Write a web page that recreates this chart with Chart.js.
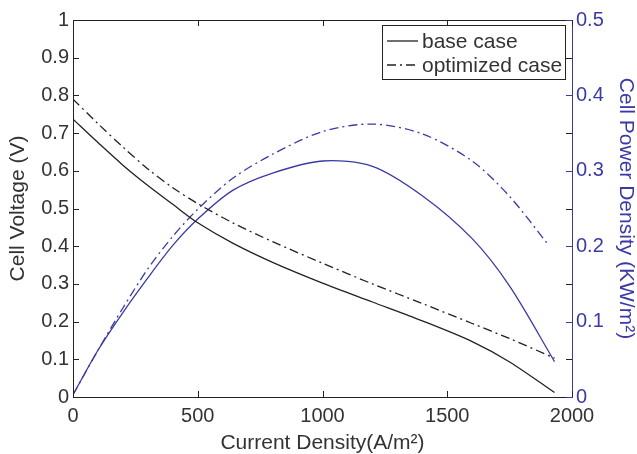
<!DOCTYPE html>
<html>
<head>
<meta charset="utf-8">
<script src="https://cdn.jsdelivr.net/npm/chart.js@4.4.0/dist/chart.umd.min.js"></script>
<style>
  html, body { margin: 0; padding: 0; background: #fff; }
  #wrap { width: 637px; height: 454px; }
</style>
</head>
<body>
<div id="wrap"><canvas id="fuelChart" width="637" height="454"></canvas></div>
<script>
// values
const currentDensity = [0, 100, 200, 300, 400, 500, 640, 800, 1000, 1200, 1400, 1600, 1750, 1930];
const baseVoltage = [0.737, 0.675, 0.615, 0.561, 0.511, 0.462, 0.408, 0.357, 0.302, 0.252, 0.202, 0.147, 0.093, 0.012];
const optVoltage = [0.79, 0.725, 0.663, 0.605, 0.555, 0.513, 0.462, 0.412, 0.355, 0.3, 0.248, 0.195, 0.155, 0.103];
const basePower = [0.003, 0.062, 0.112, 0.158, 0.201, 0.236, 0.274, 0.297, 0.313, 0.306, 0.267, 0.21, 0.147, 0.047];
const optPowerCurrent = [0, 100, 200, 300, 400, 500, 640, 800, 1000, 1200, 1400, 1600, 1750, 1900];
const optPower = [0.003, 0.062, 0.118, 0.17, 0.213, 0.249, 0.29, 0.322, 0.352, 0.362, 0.349, 0.313, 0.266, 0.204];

const currentTickLabels = ['0', '500', '1000', '1500', '2000'];
const voltageTickLabels = ['0', '0.1', '0.2', '0.3', '0.4', '0.5', '0.6', '0.7', '0.8', '0.9', '1'];
const powerTickLabels = ['0', '0.1', '0.2', '0.3', '0.4', '0.5'];

const BLACK = '#222222';
const BLUE = '#3a3aa6';
const TEXT = '#333333';
const DASHDOT = [9, 4, 2, 4];
const FONT = 'Liberation Sans, Arial, Helvetica, sans-serif';

function toPoints(xs, ys) {
    return xs.map((x, i) => ({ x: x, y: ys[i] }));
}

// inward ticks on all four sides plus the top edge of the box
const boxTicks = {
    id: 'boxTicks',
    afterDatasetsDraw(chart) {
        const { ctx, chartArea: a, scales } = chart;
        const len = 6;
        ctx.save();
        ctx.lineWidth = 1;
        ctx.strokeStyle = BLACK;
        ctx.beginPath();
        ctx.moveTo(a.left, a.top + 0.5);
        ctx.lineTo(a.right, a.top + 0.5);
        scales.x.ticks.forEach(t => {
            const px = Math.round(scales.x.getPixelForValue(t.value)) + 0.5;
            ctx.moveTo(px, a.bottom); ctx.lineTo(px, a.bottom - len);
            ctx.moveTo(px, a.top); ctx.lineTo(px, a.top + len);
        });
        scales.y.ticks.forEach(t => {
            const py = Math.round(scales.y.getPixelForValue(t.value)) + 0.5;
            ctx.moveTo(a.left, py); ctx.lineTo(a.left + len, py);
            ctx.moveTo(a.right, py); ctx.lineTo(a.right - len, py);
        });
        ctx.stroke();
        ctx.strokeStyle = BLUE;
        ctx.beginPath();
        scales.y1.ticks.forEach(t => {
            const py = Math.round(scales.y1.getPixelForValue(t.value)) + 0.5;
            ctx.moveTo(a.right, py); ctx.lineTo(a.right - len, py);
        });
        ctx.stroke();
        ctx.restore();
    }
};

// matlab style legend box, only the two voltage curves are listed
const boxLegend = {
    id: 'boxLegend',
    afterDraw(chart) {
        const ctx = chart.ctx;
        const items = chart.data.datasets.filter(d => d.inLegend);
        const x0 = 382, y0 = 25, w = 183, h = 54;
        ctx.save();
        ctx.fillStyle = '#fff';
        ctx.fillRect(x0, y0, w, h);
        ctx.strokeStyle = BLACK;
        ctx.lineWidth = 1;
        ctx.strokeRect(x0 + 0.5, y0 + 0.5, w, h);
        ctx.font = '21px ' + FONT;
        ctx.textBaseline = 'middle';
        items.forEach((d, i) => {
            const y = y0 + 16 + i * 24;
            ctx.strokeStyle = d.borderColor;
            ctx.lineWidth = 1.3;
            ctx.setLineDash(d.borderDash || []);
            ctx.beginPath();
            ctx.moveTo(x0 + 5, y);
            ctx.lineTo(x0 + 36, y);
            ctx.stroke();
            ctx.setLineDash([]);
            ctx.fillStyle = TEXT;
            ctx.fillText(d.label, x0 + 40, y + 1);
        });
        ctx.restore();
    }
};

const ctx = document.getElementById('fuelChart').getContext('2d');
new Chart(ctx, {
    type: 'scatter',
    data: {
        datasets: [
            {
                label: 'base case',
                inLegend: true,
                data: toPoints(currentDensity, baseVoltage),
                borderColor: BLACK,
                yAxisID: 'y'
            },
            {
                label: 'optimized case',
                inLegend: true,
                data: toPoints(currentDensity, optVoltage),
                borderColor: BLACK,
                borderDash: DASHDOT,
                yAxisID: 'y'
            },
            {
                label: 'base case power',
                data: toPoints(currentDensity, basePower),
                borderColor: BLUE,
                yAxisID: 'y1'
            },
            {
                label: 'optimized case power',
                data: toPoints(optPowerCurrent, optPower),
                borderColor: BLUE,
                borderDash: DASHDOT,
                yAxisID: 'y1'
            }
        ]
    },
    options: {
        responsive: false,
        animation: false,
        showLine: true,
        layout: { padding: { top: 20, left: 0, right: 0, bottom: 0 } },
        elements: {
            point: { radius: 0, hoverRadius: 0 },
            line: { borderWidth: 1.3, tension: 0.3, fill: false }
        },
        plugins: {
            legend: { display: false },
            tooltip: { enabled: false }
        },
        scales: {
            x: {
                type: 'linear',
                min: 0, max: 2000,
                afterFit: s => { s.height = 57; },
                grid: { display: false, drawTicks: false },
                border: { display: true, color: BLACK, width: 1 },
                ticks: {
                    stepSize: 500, padding: 7, color: TEXT, maxRotation: 0,
                    font: { family: FONT, size: 20 },
                    callback: (v, i) => currentTickLabels[i]
                },
                title: {
                    display: true, text: 'Current Density(A/m²)', color: TEXT,
                    font: { family: FONT, size: 21, lineHeight: 1 },
                    padding: { top: 0, bottom: 0 }
                }
            },
            y: {
                position: 'left',
                min: 0, max: 1,
                afterFit: s => { s.width = 73; },
                grid: { display: false, drawTicks: false },
                border: { display: true, color: BLACK, width: 1 },
                ticks: {
                    stepSize: 0.1, padding: 4, color: TEXT,
                    font: { family: FONT, size: 20 },
                    callback: (v, i) => voltageTickLabels[i]
                },
                title: {
                    display: true, text: 'Cell Voltage (V)', color: TEXT,
                    font: { family: FONT, size: 21, lineHeight: 1 },
                    padding: { top: 8, bottom: 0 }
                }
            },
            y1: {
                position: 'right',
                min: 0, max: 0.5,
                afterFit: s => { s.width = 65; },
                grid: { display: false, drawTicks: false },
                border: { display: true, color: BLUE, width: 1 },
                ticks: {
                    stepSize: 0.1, padding: 4, color: BLUE,
                    font: { family: FONT, size: 20 },
                    callback: (v, i) => powerTickLabels[i]
                },
                title: {
                    display: true, text: 'Cell Power Density (KW/m²)', color: BLUE,
                    font: { family: FONT, size: 21, lineHeight: 1 },
                    padding: { top: 1, bottom: 0 }
                }
            }
        }
    },
    plugins: [boxTicks, boxLegend]
});
</script>
</body>
</html>
